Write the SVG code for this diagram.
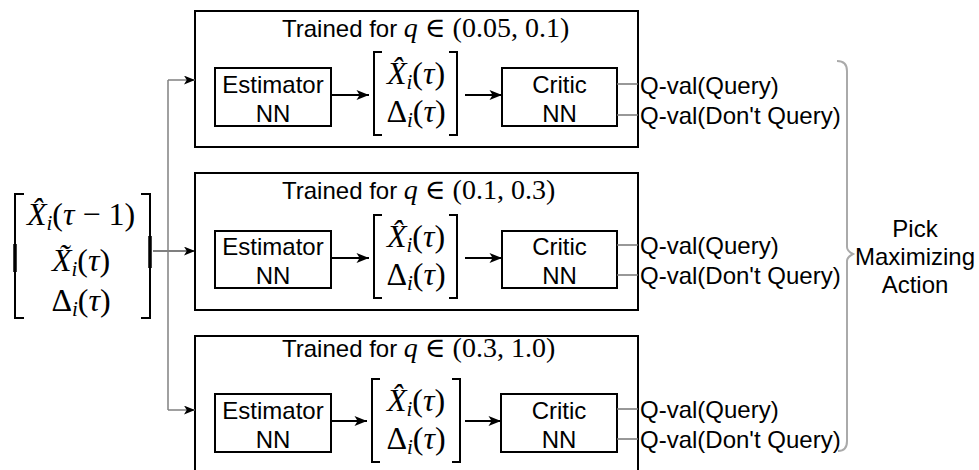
<svg xmlns="http://www.w3.org/2000/svg" width="979" height="470" viewBox="0 0 979 470">
<style>
.frame{fill:#fff;stroke:#000;stroke-width:2}
.box{fill:#fff;stroke:#000;stroke-width:2}
.br{fill:none;stroke:#000;stroke-width:2}
.sans{font-family:"Liberation Sans",Arial,sans-serif;font-size:24px;fill:#000}
.math{font-family:"Liberation Serif","DejaVu Serif",serif;font-size:28px;fill:#000}
.vm{font-family:"Liberation Serif","DejaVu Serif",serif;font-size:32px;fill:#000}
.it{font-style:italic}
.sub{font-size:21px;font-style:italic}
.ql{stroke:#777;stroke-width:1.5;fill:none}
.arr{stroke:#000;stroke-width:2;fill:none;marker-end:url(#ah)}
.thin{stroke:#000;stroke-width:1.2;fill:none;marker-end:url(#ahs)}
.tree{stroke:#808080;stroke-width:1.5;fill:none}
.treea{stroke:#808080;stroke-width:1.5;fill:none;marker-end:url(#ahs)}
</style>
<defs>
<marker id="ah" viewBox="0 0 10 8" refX="10" refY="4" markerWidth="13" markerHeight="10" markerUnits="userSpaceOnUse" orient="auto">
<path d="M0,0 L10,4 L0,8 L2.5,4 z" fill="#000"/>
</marker>
<marker id="ahs" viewBox="0 0 10 8" refX="10" refY="4" markerWidth="11" markerHeight="9" markerUnits="userSpaceOnUse" orient="auto">
<path d="M0,0 L10,4 L0,8 L2.5,4 z" fill="#000"/>
</marker>
</defs>
<rect width="979" height="470" fill="#fff"/>

<g id="input">
<path class="br" d="M24,194 H15 V318 H24"/>
<path d="M15,244 V272" stroke="#000" stroke-width="3.5"/>
<path class="br" d="M141,194 H150 V318 H141"/>
<path d="M150,236 V268" stroke="#000" stroke-width="3.5"/>
<text class="vm" x="81" y="225" text-anchor="middle"><tspan class="it">X̂</tspan><tspan class="sub" dy="5">i</tspan><tspan dy="-5">(</tspan><tspan class="it">τ</tspan> − 1)</text>
<text class="vm" x="81" y="271" text-anchor="middle"><tspan class="it">X̃</tspan><tspan class="sub" dy="5">i</tspan><tspan dy="-5">(</tspan><tspan class="it">τ</tspan>)</text>
<text class="vm" x="81" y="311" text-anchor="middle">Δ<tspan class="sub" dy="5">i</tspan><tspan dy="-5">(</tspan><tspan class="it">τ</tspan>)</text>
</g>

<g id="model1">
<rect class="frame" x="195" y="11" width="443" height="136"/>
<text x="282" y="37"><tspan class="sans">Trained for </tspan><tspan class="math"><tspan class="it">q</tspan> ∈ (0.05, 0.1)</tspan></text>
</g>
<g id="est1">
<rect class="box" x="215" y="68" width="116" height="58"/>
<text class="sans" x="273" y="93" text-anchor="middle">Estimator</text>
<text class="sans" x="273" y="122" text-anchor="middle">NN</text>
</g>
<g id="vec1">
<path class="br" d="M382,52 H374 V135 H382"/>
<path class="br" d="M449,52 H457 V135 H449"/>
<text class="vm" x="416" y="84" text-anchor="middle"><tspan class="it">X̂</tspan><tspan class="sub" dy="5">i</tspan><tspan dy="-5">(</tspan><tspan class="it">τ</tspan>)</text>
<text class="vm" x="416" y="122" text-anchor="middle">Δ<tspan class="sub" dy="5">i</tspan><tspan dy="-5">(</tspan><tspan class="it">τ</tspan>)</text>
</g>
<g id="critic1">
<rect class="box" x="502" y="68" width="115" height="58"/>
<text class="sans" x="559.5" y="93" text-anchor="middle">Critic</text>
<text class="sans" x="559.5" y="122" text-anchor="middle">NN</text>
</g>
<g id="qvals1">
<text class="sans" x="640" y="94">Q-val(Query)</text>
<text class="sans" x="640" y="124">Q-val(Don't Query)</text>
</g>

<g id="model2">
<rect class="frame" x="195" y="173" width="443" height="137"/>
<text x="282" y="199"><tspan class="sans">Trained for </tspan><tspan class="math"><tspan class="it">q</tspan> ∈ (0.1, 0.3)</tspan></text>
</g>
<g id="est2">
<rect class="box" x="215" y="231" width="116" height="57"/>
<text class="sans" x="273" y="255" text-anchor="middle">Estimator</text>
<text class="sans" x="273" y="284" text-anchor="middle">NN</text>
</g>
<g id="vec2">
<path class="br" d="M382,215 H374 V298 H382"/>
<path class="br" d="M449,215 H457 V298 H449"/>
<text class="vm" x="416" y="247" text-anchor="middle"><tspan class="it">X̂</tspan><tspan class="sub" dy="5">i</tspan><tspan dy="-5">(</tspan><tspan class="it">τ</tspan>)</text>
<text class="vm" x="416" y="285" text-anchor="middle">Δ<tspan class="sub" dy="5">i</tspan><tspan dy="-5">(</tspan><tspan class="it">τ</tspan>)</text>
</g>
<g id="critic2">
<rect class="box" x="502" y="231" width="115" height="57"/>
<text class="sans" x="559.5" y="255" text-anchor="middle">Critic</text>
<text class="sans" x="559.5" y="284" text-anchor="middle">NN</text>
</g>
<g id="qvals2">
<text class="sans" x="640" y="254">Q-val(Query)</text>
<text class="sans" x="640" y="284">Q-val(Don't Query)</text>
</g>

<g id="model3">
<rect class="frame" x="195" y="336" width="443" height="140"/>
<text x="282" y="357"><tspan class="sans">Trained for </tspan><tspan class="math"><tspan class="it">q</tspan> ∈ (0.3, 1.0)</tspan></text>
</g>
<g id="est3">
<rect class="box" x="215" y="394" width="116" height="58"/>
<text class="sans" x="273" y="419" text-anchor="middle">Estimator</text>
<text class="sans" x="273" y="448" text-anchor="middle">NN</text>
</g>
<g id="vec3">
<path class="br" d="M380,379 H372 V462 H380"/>
<path class="br" d="M452,379 H460 V462 H452"/>
<text class="vm" x="416" y="411" text-anchor="middle"><tspan class="it">X̂</tspan><tspan class="sub" dy="5">i</tspan><tspan dy="-5">(</tspan><tspan class="it">τ</tspan>)</text>
<text class="vm" x="416" y="449" text-anchor="middle">Δ<tspan class="sub" dy="5">i</tspan><tspan dy="-5">(</tspan><tspan class="it">τ</tspan>)</text>
</g>
<g id="critic3">
<rect class="box" x="501" y="394" width="116" height="58"/>
<text class="sans" x="559" y="419" text-anchor="middle">Critic</text>
<text class="sans" x="559" y="448" text-anchor="middle">NN</text>
</g>
<g id="qvals3">
<text class="sans" x="640" y="418">Q-val(Query)</text>
<text class="sans" x="640" y="448">Q-val(Don't Query)</text>
</g>

<g id="action">
<text class="sans" x="915" y="237" text-anchor="middle">Pick</text>
<text class="sans" x="915" y="265" text-anchor="middle">Maximizing</text>
<text class="sans" x="915" y="293" text-anchor="middle">Action</text>
</g>

<g id="connectors">
<path class="thin" d="M153,251 H195"/>
<path class="tree" d="M168,80 V410"/>
<path class="treea" d="M168,80 H195"/>
<path class="treea" d="M168,410 H195"/>
<path class="arr" d="M331,95 H369"/>
<path class="arr" d="M465,95 H502"/>
<path class="arr" d="M331,258 H369"/>
<path class="arr" d="M465,258 H502"/>
<path class="arr" d="M331,421 H367"/>
<path class="arr" d="M465,421 H501"/>
<path class="ql" d="M617,84 H638 M617,115 H638"/>
<path class="ql" d="M617,245 H638 M617,275 H638"/>
<path class="ql" d="M617,409 H638 M617,439 H638"/>
<path d="M837,61 Q847,61 847,71 V247 Q847,251 853,254 Q847,257 847,261 V441 Q847,451 838,451" fill="none" stroke="#aaa" stroke-width="2"/>
</g>
</svg>
